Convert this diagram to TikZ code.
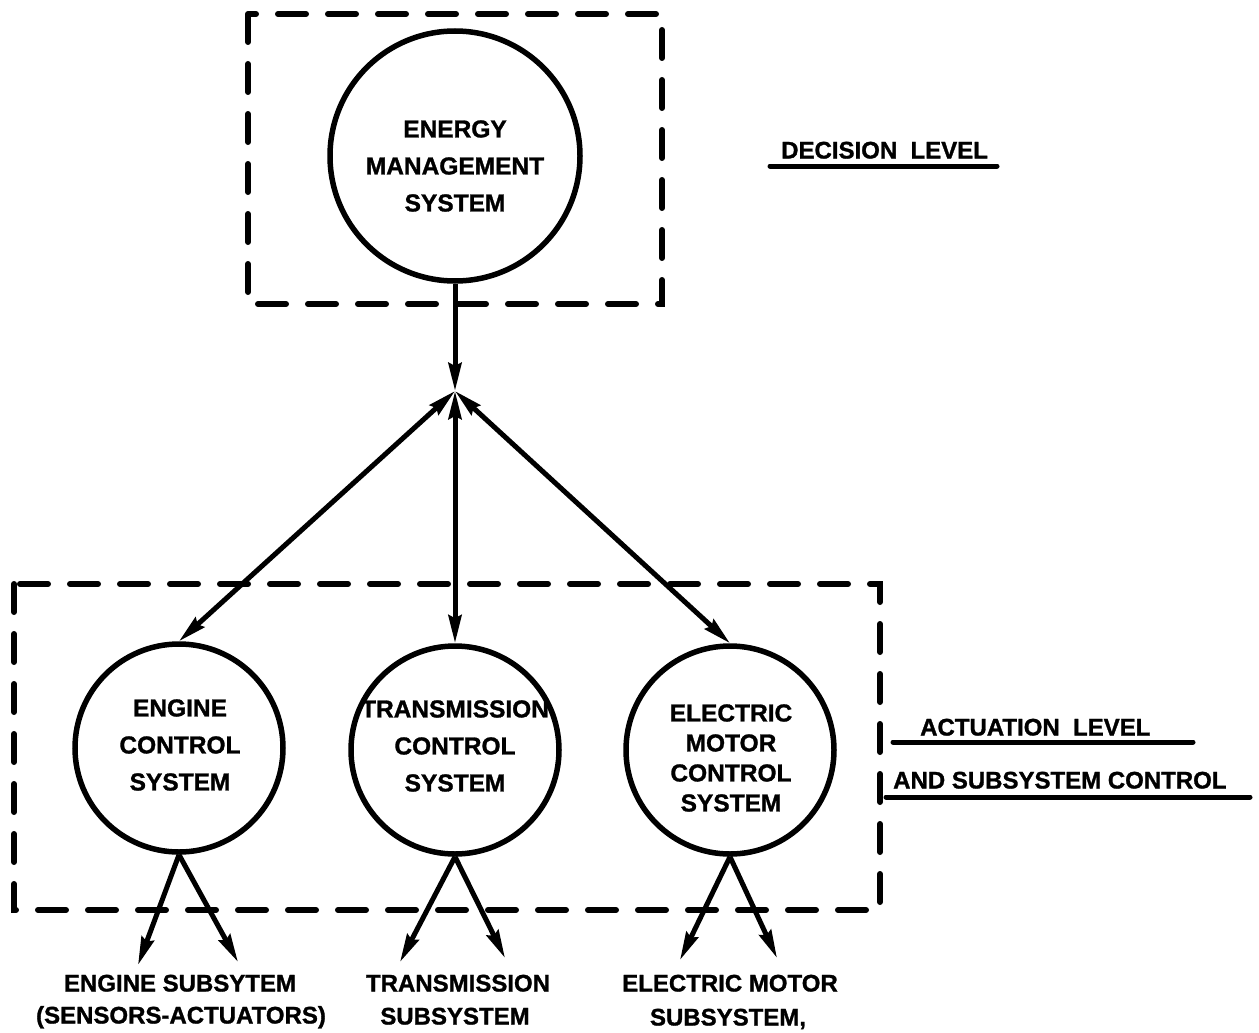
\documentclass[tikz,border=0pt]{standalone}
\usepackage{fontspec}
\setmainfont{Liberation Sans}
\newfontfamily\heavyfont{Liberation Sans Bold}[FakeBold=1.2]
\usetikzlibrary{arrows.meta}
\begin{document}
\begin{tikzpicture}[x=1pt,y=-1pt,
  circ/.style={circle, draw, line width=5.5pt, inner sep=0pt},
  ctext/.style={align=center, inner sep=0pt,
    font=\heavyfont\bfseries\fontsize{24.5}{37}\selectfont},
  dbox/.style={line width=6pt, dash pattern=on 28pt off 22pt, line cap=round},
  conn/.style={line width=5pt},
  lbl/.style={font=\heavyfont\bfseries\fontsize{24}{30}\selectfont, inner sep=0pt,
    text height=17pt, text depth=0pt},
  uline/.style={line width=5pt, line cap=round},
  >={Stealth[length=28pt,width=13pt,inset=3pt]}]
\useasboundingbox (0,0) rectangle (1259,1033);

% dashed boxes
\draw[dbox] (248,14) rectangle (662,304);
\draw[dbox] (14,584) rectangle (880,910);

% circles
\node[circ, minimum size=250pt] (ems) at (455,156) {};
\node[circ, minimum size=208pt] (eng) at (179,748) {};
\node[circ, minimum size=208pt] (trn) at (455,750) {};
\node[circ, minimum size=208pt] (emc) at (730,750) {};

% circle texts
\node[ctext] (emst) at (455,166) {ENERGY\\MANAGEMENT\\SYSTEM};
\node[ctext] (engt) at (180,745) {ENGINE\\CONTROL\\SYSTEM};
\node[ctext] (trnt) at (455,746) {TRANSMISSION\\CONTROL\\SYSTEM};
\node[ctext, font=\heavyfont\bfseries\fontsize{24.5}{30}\selectfont] (emct) at (731,758) {ELECTRIC\\MOTOR\\CONTROL\\SYSTEM};

% junction
\coordinate (j) at (455,391);
\draw[conn,->] (ems.south) -- (j);
\draw[conn,<->] (j) -- (eng.north);
\draw[conn,<->] (j) -- (trn.north);
\draw[conn,<->] (j) -- (emc.north);

% subsystem arrows
\coordinate (e1) at (138,965);
\coordinate (e2) at (238,962);
\coordinate (t1) at (400,962);
\coordinate (t2) at (505,958);
\coordinate (m1) at (680,960);
\coordinate (m2) at (777,958);
\draw[conn,->] (eng.south) -- (e1);
\draw[conn,->] (eng.south) -- (e2);
\draw[conn,->] (trn.south) -- (t1);
\draw[conn,->] (trn.south) -- (t2);
\draw[conn,->] (emc.south) -- (m1);
\draw[conn,->] (emc.south) -- (m2);

% bottom labels
\node[lbl] (engsub) at (180,983) {ENGINE SUBSYTEM};
\node[lbl] (engsub2) at (181,1015) {(SENSORS-ACTUATORS)};
\node[lbl] (trnsub) at (458,983) {TRANSMISSION};
\node[lbl] (trnsub2) at (455,1016) {SUBSYSTEM};
\node[lbl] (emcsub) at (730,983) {ELECTRIC MOTOR};
\node[lbl] (emcsub2) at (728,1017) {SUBSYSTEM,};

% level labels
\node[lbl, anchor=west] (dec) at (781,150) {DECISION\ \ LEVEL};
\draw[uline] (770,166) -- (997,166);
\node[lbl, anchor=west] (act) at (920,727) {ACTUATION\ \ LEVEL};
\draw[uline] (893,742) -- (1193,742);
\node[lbl, anchor=west] (sub) at (893,780) {AND\ SUBSYSTEM\ CONTROL};
\draw[uline] (886,797) -- (1250,797);
\end{tikzpicture}
\end{document}
